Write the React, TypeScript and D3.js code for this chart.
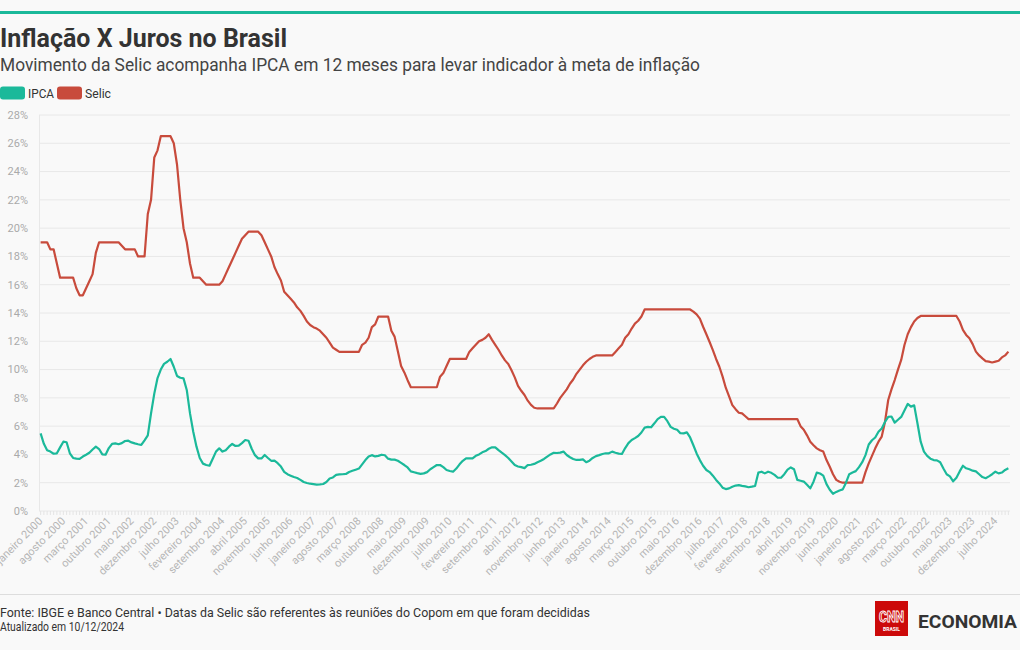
import React from "react";
import * as d3 from "d3";

const MONTHS = ["janeiro", "fevereiro", "março", "abril", "maio", "junho", "julho", "agosto", "setembro", "outubro", "novembro", "dezembro"];
const START_YEAR = 2000;

// IPCA (%), monthly Jan 2000 – Nov 2024
const ipca = [
  5.49, 4.75, 4.3, 4.2, 4.05, 4.08, 4.5, 4.9, 4.86, 4.08, 3.75, 3.7,
  3.68, 3.85, 3.98, 4.12, 4.35, 4.55, 4.38, 4.0, 3.98, 4.45, 4.75, 4.78,
  4.72, 4.8, 4.95, 4.97, 4.85, 4.78, 4.72, 4.67, 5.0, 5.35, 6.9, 8.3,
  9.4, 10.0, 10.4, 10.55, 10.75, 10.2, 9.55, 9.42, 9.38, 8.56, 6.9, 5.6,
  4.55, 3.75, 3.35, 3.25, 3.2, 3.7, 4.2, 4.43, 4.2, 4.3, 4.55, 4.74,
  4.6, 4.62, 4.8, 5.02, 4.97, 4.4, 3.95, 3.72, 3.72, 3.96, 3.75, 3.55,
  3.56, 3.38, 3.14, 2.77, 2.6, 2.5, 2.4, 2.33, 2.2, 2.05, 1.98, 1.93,
  1.9, 1.87, 1.88, 1.91, 2.05, 2.3, 2.37, 2.55, 2.59, 2.6, 2.62, 2.76,
  2.84, 2.92, 3.0, 3.3, 3.6, 3.85, 3.95, 3.86, 3.9, 3.98, 3.94, 3.7,
  3.63, 3.63, 3.55, 3.4, 3.25, 3.08, 2.8, 2.74, 2.68, 2.63, 2.66, 2.75,
  2.95, 3.1, 3.25, 3.25, 3.1, 2.9, 2.83, 2.78, 3.0, 3.3, 3.55, 3.72,
  3.72, 3.72, 3.9, 4.0, 4.15, 4.24, 4.4, 4.5, 4.5, 4.3, 4.12, 3.95,
  3.75, 3.5, 3.25, 3.15, 3.1, 3.03, 3.25, 3.27, 3.33, 3.45, 3.55, 3.68,
  3.85, 4.0, 4.12, 4.1, 4.13, 4.2, 3.96, 3.8, 3.68, 3.61, 3.61, 3.65,
  3.45, 3.56, 3.75, 3.88, 3.95, 4.03, 4.08, 4.08, 4.2, 4.12, 4.06, 4.03,
  4.45, 4.8, 5.02, 5.15, 5.3, 5.55, 5.9, 5.95, 5.92, 6.2, 6.5, 6.65,
  6.65, 6.35, 5.95, 5.82, 5.75, 5.5, 5.49, 5.56, 5.2, 4.65, 4.07, 3.6,
  3.2, 2.9, 2.75, 2.5, 2.2, 1.95, 1.65, 1.55, 1.6, 1.72, 1.8, 1.83,
  1.78, 1.74, 1.68, 1.72, 1.77, 2.71, 2.78, 2.66, 2.78, 2.7, 2.55, 2.35,
  2.35, 2.6, 2.93, 3.08, 2.95, 2.2, 2.14, 2.08, 1.85, 1.6, 2.07, 2.71,
  2.65, 2.5, 1.9, 1.5, 1.22, 1.35, 1.45, 1.53, 2.0, 2.6, 2.72, 2.82,
  3.1, 3.45, 3.95, 4.7, 5.0, 5.2, 5.6, 5.84, 6.3, 6.65, 6.68, 6.25,
  6.45, 6.65, 7.1, 7.57, 7.38, 7.47, 6.2, 4.9, 4.2, 3.9, 3.7, 3.6,
  3.58, 3.45, 3.0, 2.6, 2.45, 2.1, 2.35, 2.8, 3.2, 3.02, 2.95, 2.85,
  2.8, 2.6, 2.4, 2.32, 2.45, 2.6, 2.78, 2.66, 2.72, 2.9, 3.02,
];

// Selic (%), monthly Jan 2000 – Nov 2024
const selic = [
  19, 19, 19, 18.5, 18.5, 17.5, 16.5, 16.5, 16.5, 16.5, 16.5, 15.75,
  15.25, 15.25, 15.75, 16.25, 16.75, 18.25, 19, 19, 19, 19, 19, 19,
  19, 18.75, 18.5, 18.5, 18.5, 18.5, 18, 18, 18, 21, 22, 25,
  25.5, 26.5, 26.5, 26.5, 26.5, 26, 24.5, 22, 20, 19, 17.5, 16.5,
  16.5, 16.5, 16.25, 16, 16, 16, 16, 16, 16.25, 16.75, 17.25, 17.75,
  18.25, 18.75, 19.25, 19.5, 19.75, 19.75, 19.75, 19.75, 19.5, 19, 18.5, 18,
  17.25, 16.75, 16.3, 15.5, 15.25, 15.0, 14.75, 14.4, 14.15, 13.8, 13.4, 13.15,
  13, 12.9, 12.75, 12.5, 12.25, 11.9, 11.55, 11.4, 11.25, 11.25, 11.25, 11.25,
  11.25, 11.25, 11.25, 11.75, 11.9, 12.25, 13, 13.2, 13.75, 13.75, 13.75, 13.75,
  12.75, 12.33, 11.3, 10.25, 9.8, 9.25, 8.75, 8.75, 8.75, 8.75, 8.75, 8.75,
  8.75, 8.75, 8.75, 9.5, 9.75, 10.25, 10.75, 10.75, 10.75, 10.75, 10.75, 10.75,
  11.25, 11.5, 11.75, 12, 12.1, 12.25, 12.5, 12.1, 11.75, 11.4, 11.0, 10.65,
  10.4, 9.95, 9.45, 8.85, 8.5, 8.2, 7.8, 7.5, 7.3, 7.25, 7.25, 7.25,
  7.25, 7.25, 7.25, 7.6, 8.0, 8.3, 8.6, 9.0, 9.3, 9.7, 10.0, 10.3,
  10.55, 10.75, 10.9, 11.0, 11, 11, 11, 11, 11, 11.25, 11.5, 11.75,
  12.25, 12.5, 12.9, 13.25, 13.45, 13.75, 14.25, 14.25, 14.25, 14.25, 14.25, 14.25,
  14.25, 14.25, 14.25, 14.25, 14.25, 14.25, 14.25, 14.25, 14.25, 14.1, 13.9, 13.6,
  13.03, 12.5, 11.95, 11.38, 10.75, 10.2, 9.5, 8.7, 8.1, 7.49, 7.2, 6.95,
  6.9, 6.7, 6.5, 6.5, 6.5, 6.5, 6.5, 6.5, 6.5, 6.5, 6.5, 6.5,
  6.5, 6.5, 6.5, 6.5, 6.5, 6.5, 6.0, 5.75, 5.35, 4.9, 4.65, 4.43,
  4.3, 4.2, 3.6, 3.13, 2.6, 2.2, 2.07, 2.0, 2, 2, 2, 2,
  2, 2, 2.75, 3.37, 3.9, 4.43, 4.9, 5.26, 6.3, 7.85, 8.6, 9.26,
  10.0, 10.68, 11.74, 12.5, 13.0, 13.4, 13.65, 13.79, 13.79, 13.79, 13.79, 13.79,
  13.79, 13.79, 13.79, 13.79, 13.79, 13.79, 13.79, 13.4, 12.8, 12.45, 12.21, 11.8,
  11.27, 11.0, 10.79, 10.6, 10.56, 10.5, 10.56, 10.62, 10.86, 11.0, 11.27,
];

const categories = ipca.map((_, i) => `${MONTHS[i % 12]} ${START_YEAR + Math.floor(i / 12)}`);
const labelEvery = 7;
const yTicks = [0, 2, 4, 6, 8, 10, 12, 14, 16, 18, 20, 22, 24, 26, 28];

const TEAL = "#1bb99a";
const RED = "#c84b3c";
const FONT = "Roboto, 'Noto Sans', sans-serif";

export default function App() {
  const W = 1020, H = 650;
  const x = d3.scaleBand<string>().domain(categories).range([39, 1010]);
  const xc = (i: number) => (x(categories[i]) as number) + x.bandwidth() / 2;
  const y = d3.scaleLinear().domain([0, 28]).range([511, 115]);
  const line = d3.line<number>().x((_, i) => xc(i)).y((d) => y(d)).curve(d3.curveLinear);

  return (
    <svg width={W} height={H} style={{ position: "absolute", left: 0, top: 0, display: "block" }} fontFamily={FONT}>
      <rect x={0} y={0} width={W} height={H} fill="#f9f9f9" />
      <rect x={0} y={11} width={W} height={3} fill={TEAL} />
      <text x={0} y={47} fontSize={26} fontWeight={700} fill="#333" textLength={287} lengthAdjust="spacingAndGlyphs">Inflação X Juros no Brasil</text>
      <text x={0} y={71} fontSize={17.5} fontWeight={400} fill="#444" textLength={700} lengthAdjust="spacingAndGlyphs">Movimento da Selic acompanha IPCA em 12 meses para levar indicador à meta de inflação</text>

      <rect x={0} y={86.5} width={25} height={13} rx={3} fill={TEAL} />
      <text x={28} y={98} fontSize={13} fill="#333" textLength={26} lengthAdjust="spacingAndGlyphs">IPCA</text>
      <rect x={57} y={86.5} width={25} height={13} rx={3} fill={RED} />
      <text x={85} y={98} fontSize={13} fill="#333" textLength={26} lengthAdjust="spacingAndGlyphs">Selic</text>

      <g>
        {yTicks.map((t) => (
          <g key={t}>
            <line x1={39} x2={1010} y1={y(t)} y2={y(t)} stroke="#e8e8e8" strokeWidth={1} />
            <text x={28} y={y(t)} dy="0.35em" textAnchor="end" fontSize={11} fill="#aaa">{t}%</text>
          </g>
        ))}
        <line x1={39.5} x2={39.5} y1={115} y2={511} stroke="#e8e8e8" />
      </g>

      <g>
        {categories.map((c, i) => (
          <line key={c} x1={xc(i)} x2={xc(i)} y1={511} y2={515} stroke="#e4e4e4" strokeWidth={1} />
        ))}
        {categories.map((c, i) =>
          i % labelEvery === 0 ? (
            <text key={"l" + c} transform={`translate(${xc(i)},519) rotate(-45)`} dy="0.35em" textAnchor="end" fontSize={11} fill="#b5b5b5">
              {c}
            </text>
          ) : null
        )}
      </g>

      <path d={line(selic) || ""} fill="none" stroke={RED} strokeWidth={2.2} strokeLinejoin="round" />
      <path d={line(ipca) || ""} fill="none" stroke={TEAL} strokeWidth={2.2} strokeLinejoin="round" />

      <line x1={0} x2={W} y1={594.5} y2={594.5} stroke="#ddd" />
      <text x={0} y={617} fontSize={13.5} fill="#333" textLength={590} lengthAdjust="spacingAndGlyphs">Fonte: IBGE e Banco Central • Datas da Selic são referentes às reuniões do Copom em que foram decididas</text>
      <text x={0} y={631} fontSize={13.5} fill="#333" textLength={124} lengthAdjust="spacingAndGlyphs">Atualizado em 10/12/2024</text>

      <g>
        <rect x={875} y={601} width={33} height={35} fill="#cc0a0a" />
        <text x={891.5} y={622} textAnchor="middle" fontSize={14} fontWeight={700} fill="none" stroke="#fff" strokeWidth={0.9} textLength={25} lengthAdjust="spacingAndGlyphs">CNN</text>
        <text x={891.5} y={631} textAnchor="middle" fontSize={5} fontWeight={700} fill="#fff">BRASIL</text>
        <text x={918} y={628} fontSize={19} fontWeight={700} fill="#333" textLength={99} lengthAdjust="spacingAndGlyphs">ECONOMIA</text>
      </g>
    </svg>
  );
}
